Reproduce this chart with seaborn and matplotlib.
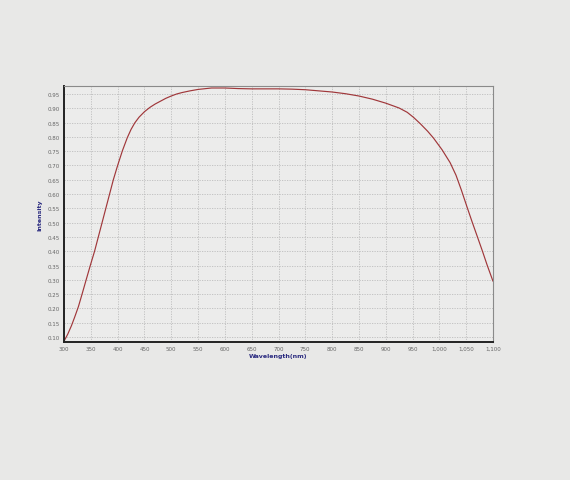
import matplotlib as mpl
mpl.use('Agg')
import matplotlib.pyplot as plt
import numpy as np
import pandas as pd
import seaborn as sns

wavelength = [300, 307, 314, 320, 327, 334, 341, 349, 357, 364, 371, 378, 385,
              392, 400, 409, 418, 425, 432, 440, 450, 460, 470, 480, 490, 500,
              510, 520, 535, 550, 575, 600, 625, 650, 675, 700, 725, 750, 775,
              800, 825, 850, 875, 900, 925, 940, 952, 965, 978, 989, 1005,
              1020, 1031, 1041, 1051, 1061, 1071, 1080, 1089, 1100]
intensity = [0.085, 0.110, 0.140, 0.170, 0.207, 0.252, 0.298, 0.350, 0.400,
             0.450, 0.500, 0.550, 0.600, 0.650, 0.700, 0.752, 0.797, 0.826,
             0.849, 0.869, 0.888, 0.903, 0.915, 0.925, 0.935, 0.943, 0.950,
             0.955, 0.961, 0.966, 0.971, 0.971, 0.969, 0.968, 0.968, 0.968,
             0.967, 0.965, 0.961, 0.957, 0.951, 0.943, 0.932, 0.918, 0.901,
             0.886, 0.868, 0.845, 0.820, 0.796, 0.755, 0.710, 0.666, 0.614,
             0.558, 0.503, 0.450, 0.402, 0.352, 0.295]

x_ticks = np.arange(300, 1101, 50)
y_ticks = np.arange(0.10, 0.951, 0.05)

df = pd.DataFrame({'Wavelength(nm)': wavelength, 'Intensity': intensity})

sns.set_style('white')
fig = plt.figure(figsize=(5.70, 4.81), dpi=100)
fig.patch.set_facecolor('#e8e8e7')
ax = fig.add_axes([64/570, 1 - 343/481, 429/570, 256/481])
ax.set_facecolor('#ececeb')

sns.lineplot(data=df, x='Wavelength(nm)', y='Intensity', ax=ax,
             color='#a0373a', linewidth=0.85)

ax.set_xlim(300, 1100)
ax.set_ylim(0.0825, 0.978)
ax.set_xticks(x_ticks)
ax.set_xticklabels(['{:,}'.format(int(v)) for v in x_ticks])
ax.set_yticks(y_ticks)
ax.set_yticklabels(['{:.2f}'.format(v) for v in y_ticks])
ax.tick_params(labelsize=4, colors='#666666', length=0, pad=3)
ax.grid(True, linestyle=(0, (1.5, 1.5)), color='#bdbdbd', linewidth=0.6)

for side in ['top', 'right']:
    ax.spines[side].set_color('#8a8a8a')
    ax.spines[side].set_linewidth(0.8)
for side in ['left', 'bottom']:
    ax.spines[side].set_color('#222222')
    ax.spines[side].set_linewidth(1.4)

ax.set_xlabel('Wavelength(nm)', fontsize=4.5, fontweight='bold', color='#2b2b80', labelpad=1)
ax.set_ylabel('Intensity', fontsize=4.5, fontweight='bold', color='#2b2b80', labelpad=4)

plt.savefig('out.png', dpi=100, facecolor=fig.get_facecolor())
